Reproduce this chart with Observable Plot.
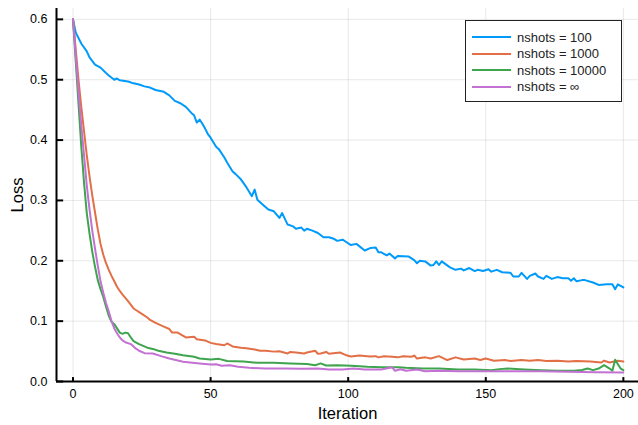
<!DOCTYPE html>
<html>
<head>
<meta charset="utf-8">
<script src="https://cdn.jsdelivr.net/npm/d3@7"></script>
<script src="https://cdn.jsdelivr.net/npm/@observablehq/plot@0.6"></script>
<style>
  html, body { margin: 0; padding: 0; background: #fff; }
  #wrap { position: relative; width: 638px; height: 425px; font-family: "Liberation Sans", Arial, sans-serif; }
  #legend { position: absolute; left: 465px; top: 20px; width: 157px; height: 82px; border: 1px solid #222; background: #fff; box-sizing: border-box; }
  .row { position: absolute; left: 0; height: 16px; display: flex; align-items: center; font-size: 13px; color: #222; }
  .sw { width: 39px; height: 2px; margin-left: 6px; margin-right: 6px; }
</style>
</head>
<body>
<div id="wrap"></div>
<script>
// ---- data (iteration, loss) ----
const seriesNames = ["nshots = 100", "nshots = 1000", "nshots = 10000", "nshots = ∞"];
const seriesColors = ["#009AFA", "#E36F47", "#3EA44E", "#C371D2"];
const xTicks = [0, 50, 100, 150, 200];
const yTicks = [0.0, 0.1, 0.2, 0.3, 0.4, 0.5, 0.6];
const yTickLabels = ["0.0", "0.1", "0.2", "0.3", "0.4", "0.5", "0.6"];

const nshots100 = [[0,0.600],[1,0.578],[3,0.560],[5,0.547],[6,0.537],[8,0.525],[10,0.520],[12,0.511],[13,0.507],[15,0.500],[16,0.502],[17,0.499],[20,0.497],[22,0.494],[24,0.492],[26,0.489],[28,0.487],[30,0.483],[33,0.480],[35,0.474],[37,0.465],[39,0.461],[41,0.455],[43,0.445],[44,0.441],[45,0.429],[46,0.434],[47,0.427],[48,0.419],[49,0.410],[50,0.404],[52,0.389],[53,0.385],[55,0.371],[56,0.363],[58,0.348],[59,0.344],[61,0.335],[63,0.322],[65,0.307],[66,0.318],[67,0.301],[69,0.293],[71,0.285],[73,0.282],[75,0.271],[76,0.279],[78,0.260],[80,0.257],[81,0.253],[83,0.255],[84,0.250],[85,0.253],[87,0.250],[89,0.246],[91,0.239],[93,0.239],[95,0.236],[96,0.233],[98,0.235],[99,0.232],[101,0.226],[103,0.228],[106,0.217],[108,0.221],[110,0.222],[111,0.214],[112,0.214],[114,0.209],[115,0.212],[117,0.204],[118,0.208],[122,0.207],[124,0.201],[125,0.196],[126,0.200],[128,0.199],[130,0.192],[131,0.193],[132,0.199],[133,0.193],[134,0.199],[137,0.189],[139,0.185],[141,0.187],[142,0.184],[144,0.188],[146,0.183],[147,0.185],[149,0.183],[151,0.186],[152,0.182],[154,0.185],[156,0.181],[159,0.180],[160,0.174],[162,0.174],[163,0.180],[165,0.170],[166,0.175],[168,0.179],[169,0.174],[171,0.170],[172,0.175],[174,0.170],[176,0.173],[178,0.171],[180,0.171],[181,0.167],[182,0.171],[183,0.166],[185,0.168],[186,0.168],[189,0.164],[191,0.160],[194,0.161],[196,0.161],[197,0.153],[198,0.161],[200,0.156]];

const nshots1000 = [[0,0.600],[1,0.550],[2,0.500],[3,0.455],[4,0.415],[5,0.375],[6,0.340],[7,0.308],[8,0.280],[9,0.252],[10,0.228],[11,0.210],[12,0.196],[13,0.185],[14,0.175],[15,0.166],[16,0.157],[17,0.150],[18,0.144],[20,0.133],[22,0.121],[23,0.118],[25,0.112],[27,0.106],[28,0.102],[30,0.097],[33,0.091],[35,0.087],[36,0.081],[38,0.081],[41,0.073],[44,0.074],[45,0.070],[48,0.068],[50,0.064],[52,0.062],[55,0.060],[56,0.063],[58,0.058],[61,0.056],[63,0.055],[66,0.053],[68,0.051],[70,0.051],[73,0.0495],[75,0.050],[78,0.0465],[79,0.049],[81,0.048],[84,0.0465],[85,0.048],[88,0.051],[89,0.046],[90,0.0465],[92,0.049],[93,0.046],[97,0.048],[99,0.044],[101,0.0415],[104,0.043],[108,0.0415],[110,0.042],[111,0.040],[113,0.042],[116,0.041],[118,0.040],[120,0.042],[123,0.041],[124,0.043],[125,0.038],[128,0.040],[130,0.038],[133,0.042],[136,0.0355],[139,0.040],[142,0.0365],[146,0.038],[148,0.0355],[150,0.038],[153,0.0345],[157,0.0355],[159,0.034],[163,0.0355],[166,0.0345],[169,0.0355],[172,0.034],[176,0.0345],[180,0.033],[183,0.034],[188,0.033],[192,0.0315],[193,0.0345],[195,0.0315],[198,0.0345],[200,0.033]];

const nshots10000 = [[0,0.600],[1,0.530],[2,0.460],[3,0.390],[4,0.330],[5,0.279],[6,0.245],[7,0.215],[8,0.190],[9,0.168],[10,0.153],[11,0.140],[12,0.124],[13,0.109],[14,0.099],[15,0.095],[16,0.088],[17,0.081],[18,0.079],[19,0.081],[20,0.080],[21,0.073],[22,0.067],[24,0.062],[27,0.056],[29,0.054],[31,0.051],[34,0.048],[37,0.046],[40,0.0435],[44,0.041],[46,0.038],[50,0.0365],[53,0.0375],[56,0.034],[62,0.033],[67,0.031],[73,0.031],[79,0.030],[85,0.029],[88,0.027],[90,0.030],[92,0.0265],[96,0.027],[101,0.026],[107,0.0243],[112,0.0235],[118,0.0235],[121,0.0226],[127,0.0215],[133,0.0215],[140,0.020],[146,0.020],[152,0.0188],[155,0.0205],[158,0.0215],[164,0.020],[170,0.0188],[176,0.018],[182,0.018],[185,0.019],[187,0.0215],[189,0.0188],[191,0.0215],[193,0.027],[195,0.0215],[196,0.0177],[197,0.036],[199,0.0215],[200,0.0188]];

const nshotsInf = [[0,0.600],[1,0.540],[2,0.480],[3,0.425],[4,0.375],[5,0.325],[6,0.285],[7,0.250],[8,0.220],[9,0.192],[10,0.166],[11,0.147],[12,0.130],[13,0.116],[14,0.100],[15,0.088],[16,0.080],[17,0.073],[18,0.068],[19,0.065],[21,0.062],[22,0.058],[23,0.054],[24,0.051],[26,0.047],[29,0.0465],[32,0.042],[35,0.038],[40,0.0328],[46,0.030],[50,0.028],[52,0.0287],[54,0.026],[57,0.027],[60,0.0243],[64,0.0226],[70,0.0215],[77,0.0215],[83,0.021],[89,0.0215],[93,0.020],[98,0.020],[102,0.0215],[106,0.020],[112,0.020],[116,0.0235],[117,0.0177],[118,0.019],[119,0.0204],[121,0.0177],[125,0.020],[128,0.0171],[133,0.0177],[140,0.0171],[150,0.0171],[160,0.0171],[170,0.0168],[180,0.016],[190,0.0155],[200,0.0149]];

const allSeries = [nshots100, nshots1000, nshots10000, nshotsInf];

// ---- chart ----
const X0 = -6, X1 = 205.5, Y1 = 0.618;
const font = "Liberation Sans, Arial, sans-serif";

const marks = [
  Plot.gridX(xTicks, {stroke: "#000", strokeOpacity: 0.09, strokeWidth: 1}),
  Plot.gridY(yTicks, {stroke: "#000", strokeOpacity: 0.09, strokeWidth: 1}),
  ...allSeries.map((s, i) => Plot.line(s, {x: d => d[0], y: d => d[1], stroke: seriesColors[i], strokeWidth: 2, strokeLinejoin: "round"})),
  // axis lines
  Plot.ruleX([X0], {stroke: "#000", strokeWidth: 2}),
  Plot.ruleY([0], {stroke: "#000", strokeWidth: 2}),
  // inward ticks
  Plot.ruleY(yTicks, {x1: X0, x2: X0 + 2.6, stroke: "#000", strokeWidth: 2}),
  Plot.ruleX(xTicks, {y1: 0, y2: 0.0065, stroke: "#000", strokeWidth: 2}),
  Plot.axisX({ticks: xTicks, tickSize: 0, tickPadding: 8, fontSize: 12.5, label: null, tickFormat: d => String(d)}),
  Plot.axisY({ticks: yTicks, tickSize: 0, tickPadding: 9, fontSize: 12.5, label: null, tickFormat: d => yTickLabels[yTicks.indexOf(d)]}),
  Plot.text(["Iteration"], {frameAnchor: "bottom", text: d => d, dy: 32, lineAnchor: "middle", textAnchor: "middle", fontSize: 16.5, fill: "#000"}),
  Plot.text(["Loss"], {frameAnchor: "left", text: d => d, dx: -39, rotate: -90, lineAnchor: "middle", textAnchor: "middle", fontSize: 16.5, fill: "#000"})
];

const chart = Plot.plot({
  width: 638,
  height: 425,
  marginLeft: 56,
  marginRight: 0,
  marginTop: 8,
  marginBottom: 44,
  style: {fontFamily: font, fontSize: "12.5px", color: "#000", background: "#fff"},
  x: {domain: [X0, X1], axis: null},
  y: {domain: [0, Y1], axis: null},
  marks
});

const wrap = document.getElementById("wrap");
wrap.appendChild(chart);

// legend
const legend = document.createElement("div");
legend.id = "legend";
seriesNames.forEach((name, i) => {
  const row = document.createElement("div");
  row.className = "row";
  row.style.top = (8 + i * 16.5) + "px";
  const sw = document.createElement("span");
  sw.className = "sw";
  sw.style.background = seriesColors[i];
  const t = document.createElement("span");
  t.textContent = name;
  row.appendChild(sw);
  row.appendChild(t);
  legend.appendChild(row);
});
wrap.appendChild(legend);
</script>
</body>
</html>
